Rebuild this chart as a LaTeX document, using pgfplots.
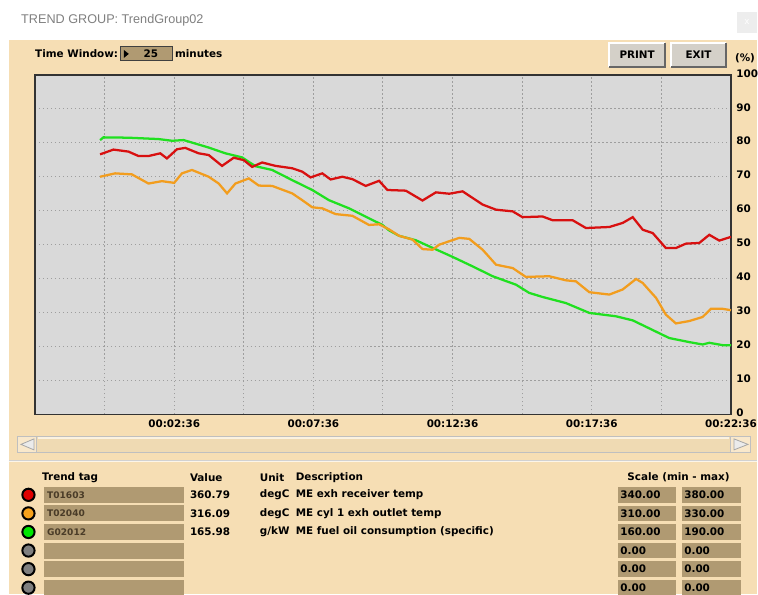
\documentclass[border=0pt]{standalone}
\usepackage{pgfplots}
\pgfplotsset{compat=1.18}
\usepackage{fontspec}
\setmainfont{DejaVu Sans}
\newfontfamily\titlefont{Liberation Sans}
\definecolor{beige}{HTML}{F6DEB4}
\definecolor{plotgray}{HTML}{D9D9D9}
\definecolor{tan}{HTML}{B09A72}
\definecolor{tagtext}{HTML}{4A3C28}
\definecolor{btn}{HTML}{D4D0C8}
\definecolor{track}{HTML}{EFDAB3}
\definecolor{cred}{HTML}{D81010}
\definecolor{corange}{HTML}{F29D1E}
\definecolor{cgreen}{HTML}{20E020}
\definecolor{dred}{HTML}{E00000}
\definecolor{dorange}{HTML}{F7A21B}
\definecolor{dgreen}{HTML}{00E600}
\definecolor{dgray}{HTML}{7F7F7F}
\newcommand{\bb}{\bfseries\fontsize{7.8}{9}\selectfont}
\begin{document}
\begin{tikzpicture}
\begin{scope}[x=0.75pt,y=0.75pt]
\path[use as bounding box] (0,0) rectangle (758,595);
\fill[white] (0,0) rectangle (758,595);
\fill[beige] (9,0) rectangle (758,555);
% title bar
\node[anchor=west, inner sep=0pt, text=black!50, font=\titlefont\fontsize{9.5}{11}\selectfont] at (21,575) {TREND GROUP: TrendGroup02};
\fill[black!7] (738,562) rectangle (758,583);
\node[text=white, font=\titlefont\fontsize{7}{8}\selectfont] at (748,572.5) {x};
% time window
\node[anchor=west, inner sep=0pt, font=\bb] at (35,541) {Time Window:};
\filldraw[fill=tan, draw=black!75, line width=0.75pt] (121,548) rectangle (173,534);
\fill[black] (124,545) -- (124,537) -- (129,541) -- cycle;
\node[inner sep=0pt, font=\bb] at (151,541) {25};
\node[anchor=west, inner sep=0pt, font=\bb] at (175,541) {minutes};
% buttons
\fill[btn] (610,528) rectangle (666,552);
\draw[white, line width=1.2pt] (610,528) -- (610,552) -- (666,552);
\draw[black!60, line width=1.2pt] (610,528) -- (666,528) -- (666,552);
\node[font=\bb] at (638,540) {PRINT};
\fill[btn] (672,528) rectangle (727,552);
\draw[white, line width=1.2pt] (672,528) -- (672,552) -- (727,552);
\draw[black!60, line width=1.2pt] (672,528) -- (727,528) -- (727,552);
\node[font=\bb] at (699.5,540) {EXIT};
\node[font=\bb, inner sep=0pt] at (746,537) {(\%)};
% scrollbar
\filldraw[fill=track, draw=black!25, line width=0.75pt] (18,142) rectangle (752,158);
\draw[white!60!beige, line width=1pt] (38,156.5) -- (730,156.5);
\filldraw[fill=beige!70!white, draw=black!25, line width=0.75pt] (18,142) rectangle (37,158);
\filldraw[fill=beige!70!white, draw=black!25, line width=0.75pt] (731,142) rectangle (752,158);
\filldraw[fill=black!8, draw=black!35, line width=0.6pt] (21,150) -- (34,155.5) -- (34,144.5) -- cycle;
\filldraw[fill=black!8, draw=black!35, line width=0.6pt] (749,150) -- (735,155.5) -- (735,144.5) -- cycle;
% separator
\draw[black!18, line width=0.75pt] (9,134) -- (758,134);
\draw[white!70!beige, line width=0.75pt] (9,132.8) -- (758,132.8);
% table header
\node[anchor=west, inner sep=0pt, font=\bb] at (42,117) {Trend tag};
\node[anchor=west, inner sep=0pt, font=\bb] at (190,117) {Value};
\node[anchor=west, inner sep=0pt, font=\bb] at (260,117) {Unit};
\node[anchor=west, inner sep=0pt, font=\bb] at (296,117) {Description};
\node[anchor=west, inner sep=0pt, font=\bb] at (628,117) {Scale (min - max)};
% rows
\foreach \c/\tag/\val/\unit/\desc/\smin/\smax [count=\i from 0] in {
  dred/T01603/360.79/degC/ME exh receiver temp/340.00/380.00,
  dorange/T02040/316.09/degC/ME cyl 1 exh outlet temp/310.00/330.00,
  dgreen/G02012/165.98/{g/kWh}/ME fuel oil consumption (specific)/160.00/190.00,
  dgray/{}/{}/{}/{}/0.00/0.00,
  dgray/{}/{}/{}/{}/0.00/0.00,
  dgray/{}/{}/{}/{}/0.00/0.00}{
  \pgfmathsetmacro{\yy}{99.5-18.6*\i}
  \filldraw[fill=\c, draw=black, line width=1.5pt] (28.5,\yy) circle[radius=4.6pt];
  \fill[tan] (44,\yy-8) rectangle (184,\yy+8);
  \node[anchor=west, inner sep=0pt, text=tagtext, font=\bfseries\fontsize{6.8}{8}\selectfont] at (47,\yy) {\tag};
  \node[anchor=west, inner sep=0pt, font=\bb] at (190,\yy) {\val};
  \begin{scope}
    \clip (255,\yy-9) rectangle (289.5,\yy+9);
    \node[anchor=west, inner sep=0pt, font=\bb] at (260,\yy) {\unit};
  \end{scope}
  \node[anchor=west, inner sep=0pt, font=\bb] at (296,\yy) {\desc};
  \fill[tan] (619,\yy-7.7) rectangle (677,\yy+7.7);
  \fill[tan] (683,\yy-7.7) rectangle (742,\yy+7.7);
  \node[anchor=west, inner sep=0pt, font=\bb] at (621,\yy) {\smin};
  \node[anchor=west, inner sep=0pt, font=\bb] at (685,\yy) {\smax};
}
\end{scope}
% plot
\begin{axis}[at={(26.25pt,135pt)}, anchor=south west, scale only axis,
  width=522.75pt, height=255pt,
  xmin=0, xmax=25, ymin=0, ymax=100,
  axis background/.style={fill=plotgray},
  axis line style={draw=black!80, line width=1.1pt},
  xtick={5,10,15,20,25},
  xticklabels={00:02:36,00:07:36,00:12:36,00:17:36,00:22:36},
  minor xtick={2.5,7.5,12.5,17.5,22.5},
  ytick={0,10,...,100},
  yticklabel pos=right,
  xmajorgrids, xminorgrids, ymajorgrids,
  grid style={black!38, line width=0.75pt, dash pattern=on 1.1pt off 1.9pt},
  minor grid style={black!38, line width=0.75pt, dash pattern=on 1.1pt off 1.9pt},
  major tick length=0pt, minor tick length=0pt,
  tick label style={font=\bb},
  /pgf/number format/assume math mode=true,
  yticklabel style={anchor=west, inner sep=0pt, xshift=3.8pt, yshift=1.2pt},
  xticklabel style={anchor=north, inner sep=0pt, yshift=-3.8pt},
  clip=true,
]
\addplot[cgreen, line width=1.7pt, no marks] coordinates {
(2.34,80.8)(2.46,81.6)(3.36,81.5)(4.44,81.1)(4.92,80.6)(5.34,80.8)(6.24,78.6)(6.84,76.9)(7.44,75.7)(7.92,73.1)(8.52,72.0)(9.24,69.0)(9.96,66.1)(10.56,63.1)(11.28,60.7)(12.48,55.8)(12.72,54.2)(13.08,52.6)(13.68,51.3)(14.16,49.5)(15.0,46.4)(15.72,43.6)(16.44,40.7)(17.28,38.2)(17.75,35.8)(18.23,34.6)(19.07,32.8)(19.91,29.9)(20.87,28.9)(21.47,27.7)(21.95,25.8)(22.78,22.5)(23.5,21.3)(23.98,20.6)(24.22,21.1)(24.7,20.4)(25.0,20.4)
};
\addplot[corange, line width=1.7pt, no marks] coordinates {
(2.34,70.0)(2.88,71.0)(3.48,70.7)(4.08,68.0)(4.56,68.7)(5.0,68.2)(5.28,71.0)(5.64,72.0)(6.24,70.0)(6.6,68.0)(6.9,65.1)(7.2,68.0)(7.68,69.5)(8.04,67.4)(8.52,67.3)(9.24,65.1)(9.6,63.1)(9.96,61.0)(10.32,60.7)(10.8,59.0)(11.4,58.5)(12.0,55.8)(12.36,56.0)(12.72,54.5)(13.08,52.6)(13.56,51.5)(13.92,48.7)(14.28,48.5)(14.52,50.0)(15.24,52.0)(15.6,51.7)(16.08,48.5)(16.56,44.1)(17.16,43.1)(17.63,40.5)(18.47,40.7)(19.07,39.5)(19.43,39.2)(19.91,36.0)(20.63,35.3)(21.11,36.8)(21.59,39.9)(21.83,38.7)(22.31,34.3)(22.66,29.4)(23.02,26.8)(23.5,27.5)(23.98,28.7)(24.28,31.1)(24.7,31.1)(25.0,30.7)
};
\addplot[cred, line width=1.7pt, no marks] coordinates {
(2.34,76.6)(2.82,78.0)(3.36,77.4)(3.72,76.1)(4.08,76.1)(4.5,76.9)(4.74,75.4)(5.1,78.1)(5.4,78.5)(5.88,76.9)(6.24,76.4)(6.72,73.2)(7.14,75.6)(7.5,74.9)(7.8,72.9)(8.16,74.2)(8.64,73.2)(9.24,72.5)(9.6,71.5)(9.9,69.8)(10.32,71.0)(10.62,69.2)(11.04,70.0)(11.4,69.3)(11.88,67.3)(12.36,68.8)(12.66,66.1)(13.32,65.9)(13.92,63.0)(14.4,65.4)(14.88,65.0)(15.36,65.7)(16.08,61.8)(16.56,60.3)(17.16,59.8)(17.51,58.1)(18.23,58.3)(18.59,57.2)(19.31,57.2)(19.79,54.9)(20.63,55.2)(21.11,56.4)(21.47,58.1)(21.83,54.4)(22.19,53.4)(22.66,49.0)(23.02,49.0)(23.38,50.3)(23.86,50.5)(24.22,52.9)(24.58,51.2)(25.0,52.3)
};
\end{axis}
\end{tikzpicture}
\end{document}
